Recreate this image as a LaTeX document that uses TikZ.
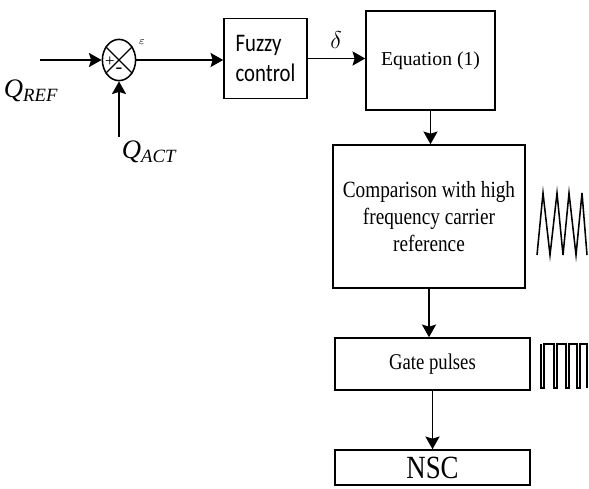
\documentclass[tikz,border=0pt]{standalone}
\usepackage{fontspec}
\setmainfont{Liberation Serif}
\newfontfamily\narrowserif{Liberation Serif}[FakeStretch=0.83]
\newfontfamily\fuzzyfont{Carlito}[FakeStretch=0.82]
\usetikzlibrary{positioning, arrows.meta, shapes.geometric}

\begin{document}
\begin{tikzpicture}[
  x=0.025cm, y=-0.025cm,
  >={Stealth[length=9pt,width=10pt,inset=1.5pt]},
  block/.style={draw, line width=1.1pt, inner sep=0pt, align=center},
  sumjunct/.style={draw, ellipse, line width=1.1pt, inner sep=0pt,
    minimum width=0.83cm, minimum height=1.03cm},
  arrow/.style={->, line width=1.3pt},
  qlabel/.style={inner sep=0pt, font=\fontsize{19}{22}\selectfont\itshape},
  wave/.style={line width=0.9pt, line join=miter},
]
\useasboundingbox (0,0) rectangle (589,488);

% ===== summing junction =====
\node[sumjunct] (sum) at (119,60) {};
\draw[line width=0.9pt] (sum.45) -- (sum.225) (sum.135) -- (sum.315);
\node[inner sep=0pt, font=\large] (plus) at (110,62) {+};
\node[inner sep=0pt, font=\Large] (minus) at (119,71) {-};
\node[inner sep=0pt, font=\footnotesize] (err) at (142,42) {$\varepsilon$};

% inputs
\coordinate (qref) at (40,60);
\coordinate (qact) at (119,137);
\node[qlabel] (qreflabel) at (31,91) {Q\textsubscript{REF}};
\node[qlabel] (qactlabel) at (149,152) {Q\textsubscript{ACT}};
\draw[arrow] (qref) -- (sum.west);
\draw[arrow] (qact) -- (sum.south);

% ===== top row =====
\node[block, minimum width=2.075cm, minimum height=2.0cm,
  font=\fuzzyfont\fontsize{18}{21.5}\selectfont, align=left]
  (fuzzy) at (265.5,58.5) {Fuzzy\\control};
\node[block, minimum width=3.225cm, minimum height=2.475cm,
  font=\fontsize{14}{17}\selectfont] (eqn) at (430.5,60.5) {Equation (1)};
\node[inner sep=0pt, font=\fontsize{18}{21}\selectfont] (delta)
  at (336,40) {$\delta$};

\draw[arrow] (sum.east) -- (sum.east -| fuzzy.west);
\draw[arrow] (fuzzy.east) -- (fuzzy.east -| eqn.west);

% ===== right column =====
\node[block, minimum width=4.8cm, minimum height=3.575cm,
  font=\narrowserif\fontsize{16.5}{19.5}\selectfont]
  (compare) at (429,216.5)
  {Comparison with high\\frequency carrier\\reference};
\node[block, minimum width=4.875cm, minimum height=1.3cm,
  font=\narrowserif\fontsize{16}{19}\selectfont]
  (gate) at (432.5,364) {Gate pulses};
\node[block, minimum width=4.875cm, minimum height=0.875cm,
  font=\narrowserif\fontsize{23}{26}\selectfont]
  (nsc) at (432.5,467.5) {NSC};

\draw[arrow] (eqn.south) -- (eqn.south |- compare.north);
\draw[arrow] (compare.south) -- (compare.south |- gate.north);
\draw[arrow] (gate.south) -- (gate.south |- nsc.north);

% carrier and pulse sketches
\draw[wave, line width=1.1pt] (537,255) -- (543,193) -- (550,255) -- (557,193)
  -- (563,255) -- (569,193) -- (576,255) -- (582,193) -- (587,255);
\draw[wave] (541,344) -- (541,388) -- (544,388) -- (544,344) -- (554,344)
  -- (554,388) -- (557,388) -- (557,344) -- (566,344) -- (566,388)
  -- (569,388) -- (569,344) -- (577,344) -- (577,388) -- (580,388)
  -- (580,344) -- (587,344) -- (587,388);

\end{tikzpicture}
\end{document}
